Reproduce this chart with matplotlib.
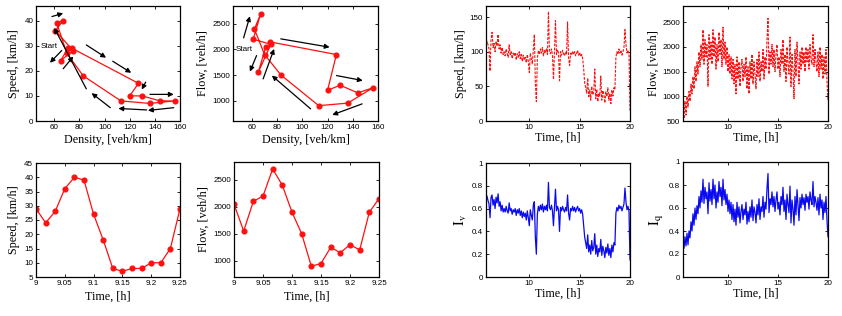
import numpy as np
import matplotlib
matplotlib.use("Agg")
import matplotlib.pyplot as plt

plt.rcParams['font.family'] = ['Liberation Sans', 'DejaVu Sans']
plt.rcParams['mathtext.fontset'] = 'stix'

# ---------------- data: short window 9.00 - 9.25 h ----------------
t_short = [9.0, 9.0167, 9.0333, 9.05, 9.0667, 9.0833, 9.1, 9.1167,
           9.1333, 9.15, 9.1667, 9.1833, 9.2, 9.2167, 9.2333, 9.25]
speed_short = [29, 24, 28, 36, 40, 39, 27, 18, 8, 7, 8, 8, 10, 10, 15, 29]
flow_short = [2050, 1550, 2100, 2200, 2700, 2400, 1900, 1500, 900, 950,
              1250, 1150, 1300, 1200, 1900, 2150]
density_short = [71, 65, 75, 61, 67, 62, 70, 83, 113, 136, 156, 144, 130, 120, 127, 74]

# arrows (start x, start y, end x, end y) in data units
arrows_speed = [(58.2, 41.6, 67.1, 42.9), (85.5, 12.8, 60.0, 37.1),
                (66.0, 28.1, 56.6, 23.2), (67.1, 20.8, 75.2, 25.7),
                (85.5, 30.3, 101.2, 25.2), (106.5, 23.8, 121.2, 19.2),
                (132.7, 15.5, 129.6, 12.5), (136.1, 10.6, 155.0, 10.6),
                (155.0, 5.3, 134.5, 4.2), (133.5, 4.4, 111.0, 5.0),
                (104.6, 5.3, 89.7, 11.1)]
arrows_flow = [(53.4, 2226, 58.4, 2650), (63.7, 1880, 58.4, 1567),
               (68.9, 1424, 77.6, 2011), (82.9, 2207, 121.6, 2044),
               (127.1, 1489, 147.9, 1391), (147.4, 935, 123.7, 719),
               (106.6, 837, 75.8, 1489)]

# ---------------- data: full day 5.5 - 20 h (0.1 h step) ----------------
t_day = np.round(np.linspace(5.5, 20.0, 146), 2)
speed_day = [108, 112, 105, 115, 110, 104, 72, 118, 128, 106,
             112, 100, 115, 108, 125, 104, 110, 98, 106, 96,
             100, 94, 104, 97, 92, 110, 96, 100, 90, 98,
             94, 99, 88, 97, 92, 100, 90, 96, 86, 95,
             88, 92, 84, 96, 86, 70, 98, 90, 82, 104,
             125, 55, 28, 90, 102, 96, 104, 98, 106, 94,
             102, 98, 105, 96, 158, 100, 97, 104, 95, 60,
             100, 145, 96, 103, 98, 58, 100, 95, 102, 97,
             94, 100, 96, 143, 92, 80, 98, 95, 101, 96,
             100, 94, 98, 102, 95, 99, 93, 96, 90, 75,
             55, 48, 40, 62, 35, 45, 30, 50, 38, 42,
             75, 32, 46, 28, 40, 36, 65, 30, 44, 38,
             26, 42, 35, 48, 30, 40, 25, 45, 36, 48,
             45, 92, 100, 96, 104, 98, 102, 95, 100, 106,
             132, 110, 98, 102, 96, 15]
flow_day = [700, 550, 900, 620, 1000, 780, 1100, 900, 1250, 1050,
            1400, 1150, 1600, 1300, 1700, 1450, 1900, 1600, 2050, 1750,
            2350, 1650, 2150, 1800, 2050, 1200, 2250, 1750, 2100, 1650,
            2350, 1800, 2200, 1550, 2050, 1700, 2300, 1850, 2150, 1600,
            2400, 1750, 2100, 1650, 2000, 1500, 1850, 1450, 1800, 1350,
            1750, 1250, 1650, 1050, 1800, 1350, 1700, 1200, 1600, 1750,
            1300, 1650, 1400, 1800, 1150, 1600, 1050, 1700, 1350, 1850,
            1250, 1700, 1450, 1150, 1750, 1400, 1900, 1300, 1700, 1500,
            1950, 1350, 1800, 1550, 2150, 2580, 1450, 1900, 1650, 2050,
            1600, 1950, 1500, 1850, 2050, 1550, 1800, 1400, 1950, 1650,
            2150, 1500, 1850, 1300, 2000, 1650, 1450, 2200, 1200, 1850,
            1550, 950, 1950, 1400, 2100, 1650, 1250, 1900, 1550, 2000,
            1650, 1900, 1500, 2000, 1700, 1950, 1550, 2050, 1750, 1650,
            2250, 1600, 1950, 1700, 1500, 1900, 1400, 2000, 1550, 1850,
            1350, 1800, 1450, 1950, 1300, 900]
iv_day = [0.68, 0.70, 0.66, 0.71, 0.67, 0.64, 0.52, 0.70, 0.72, 0.63,
          0.68, 0.60, 0.70, 0.65, 0.73, 0.62, 0.66, 0.58, 0.63, 0.57,
          0.60, 0.57, 0.62, 0.58, 0.56, 0.65, 0.58, 0.60, 0.55, 0.59,
          0.57, 0.60, 0.54, 0.59, 0.56, 0.60, 0.54, 0.58, 0.52, 0.57,
          0.53, 0.56, 0.50, 0.58, 0.52, 0.45, 0.59, 0.54, 0.50, 0.63,
          0.66, 0.35, 0.20, 0.55, 0.62, 0.58, 0.63, 0.59, 0.64, 0.57,
          0.62, 0.59, 0.63, 0.58, 0.83, 0.61, 0.59, 0.63, 0.58, 0.45,
          0.61, 0.77, 0.58, 0.62, 0.59, 0.40, 0.61, 0.58, 0.62, 0.59,
          0.57, 0.61, 0.58, 0.72, 0.56, 0.50, 0.60, 0.58, 0.62, 0.58,
          0.61, 0.57, 0.60, 0.62, 0.58, 0.60, 0.56, 0.59, 0.55, 0.45,
          0.35, 0.30, 0.25, 0.37, 0.22, 0.28, 0.20, 0.32, 0.23, 0.26,
          0.38, 0.20, 0.28, 0.18, 0.25, 0.22, 0.33, 0.19, 0.27, 0.23,
          0.17, 0.26, 0.21, 0.29, 0.19, 0.25, 0.17, 0.28, 0.22, 0.30,
          0.28, 0.56, 0.61, 0.58, 0.63, 0.60, 0.62, 0.58, 0.61, 0.64,
          0.78, 0.66, 0.59, 0.62, 0.58, 0.15]
iq_day = [0.30, 0.25, 0.35, 0.27, 0.38, 0.28, 0.40, 0.34, 0.48, 0.40,
          0.55, 0.45, 0.60, 0.50, 0.62, 0.55, 0.70, 0.60, 0.75, 0.65,
          0.85, 0.64, 0.78, 0.68, 0.74, 0.55, 0.82, 0.66, 0.76, 0.63,
          0.85, 0.68, 0.80, 0.60, 0.74, 0.65, 0.83, 0.70, 0.78, 0.62,
          0.85, 0.67, 0.76, 0.63, 0.72, 0.57, 0.67, 0.55, 0.65, 0.50,
          0.63, 0.48, 0.59, 0.45, 0.65, 0.52, 0.61, 0.47, 0.57, 0.63,
          0.50, 0.59, 0.54, 0.65, 0.46, 0.57, 0.48, 0.61, 0.52, 0.67,
          0.49, 0.61, 0.56, 0.47, 0.63, 0.54, 0.68, 0.50, 0.61, 0.57,
          0.70, 0.52, 0.65, 0.59, 0.77, 0.90, 0.56, 0.68, 0.63, 0.74,
          0.61, 0.70, 0.57, 0.67, 0.74, 0.59, 0.65, 0.54, 0.70, 0.63,
          0.78, 0.57, 0.67, 0.50, 0.72, 0.63, 0.56, 0.79, 0.47, 0.67,
          0.59, 0.45, 0.70, 0.54, 0.76, 0.63, 0.49, 0.69, 0.60, 0.72,
          0.63, 0.69, 0.58, 0.72, 0.65, 0.70, 0.59, 0.74, 0.67, 0.63,
          0.83, 0.61, 0.70, 0.65, 0.58, 0.69, 0.54, 0.72, 0.60, 0.67,
          0.50, 0.65, 0.56, 0.70, 0.49, 0.35]

# ---------------- figure ----------------
W, H = 842, 316
fig = plt.figure(figsize=(W / 100, H / 100), dpi=100)

def add_ax(l, r, top, bot):
    return fig.add_axes([l / W, 1 - bot / H, (r - l) / W, (bot - top) / H])

LABEL_FONT = dict(family='Liberation Serif', size=8.7)
TICK_SIZE = 5.8
RED = '#ff1010'
BLUE = '#0a0af0'

def style(ax):
    ax.tick_params(direction='in', top=True, right=True, length=2.5,
                   width=0.6, labelsize=TICK_SIZE, pad=2)
    for s in ax.spines.values():
        s.set_linewidth(0.9)

marker = dict(marker='o', markersize=3.4, markerfacecolor=RED, markeredgecolor=RED)
arrow_props = dict(arrowstyle='-|>', color='k', lw=0.9,
                   mutation_scale=7, shrinkA=0, shrinkB=0)

# panel 1: speed vs density
ax1 = add_ax(36, 180, 6, 121)
ax1.plot(density_short, speed_short, '-', color=RED, lw=0.9, **marker)
for x0, y0, x1, y1 in arrows_speed:
    ax1.annotate('', xy=(x1, y1), xytext=(x0, y0), arrowprops=arrow_props)
ax1.text(49.5, 29.7, 'Start', fontsize=5.8, ha='left', va='center')
ax1.set_xlim(45.5, 160)
ax1.set_ylim(0, 45.8)
ax1.set_xticks([60, 80, 100, 120, 140, 160])
ax1.set_yticks([0, 10, 20, 30, 40])
ax1.set_xlabel('Density, [veh/km]', fontdict=LABEL_FONT, labelpad=2)
ax1.set_ylabel('Speed, [km/h]', fontdict=LABEL_FONT, labelpad=3)
style(ax1)

# panel 2: flow vs density
ax2 = add_ax(233, 378, 6, 121)
ax2.plot(density_short, flow_short, '-', color=RED, lw=0.9, **marker)
for x0, y0, x1, y1 in arrows_flow:
    ax2.annotate('', xy=(x1, y1), xytext=(x0, y0), arrowprops=arrow_props)
ax2.text(47.4, 2000, 'Start', fontsize=5.8, ha='left', va='center')
ax2.set_xlim(45, 160)
ax2.set_ylim(600, 2850)
ax2.set_xticks([60, 80, 100, 120, 140, 160])
ax2.set_yticks([1000, 1500, 2000, 2500])
ax2.set_xlabel('Density, [veh/km]', fontdict=LABEL_FONT, labelpad=2)
ax2.set_ylabel('Flow, [veh/h]', fontdict=LABEL_FONT, labelpad=3)
style(ax2)

short_ticks = [9.0, 9.05, 9.1, 9.15, 9.2, 9.25]
short_labels = ['9', '9.05', '9.1', '9.15', '9.2', '9.25']

# panel 3: speed vs time (short)
ax3 = add_ax(36, 180, 163, 277)
ax3.plot(t_short, speed_short, '-', color=RED, lw=0.9, **marker)
ax3.set_xlim(9, 9.25)
ax3.set_ylim(5, 45)
ax3.set_xticks(short_ticks)
ax3.set_xticklabels(short_labels)
ax3.set_yticks(list(range(5, 46, 5)))
ax3.set_xlabel('Time, [h]', fontdict=LABEL_FONT, labelpad=3)
ax3.set_ylabel('Speed, [km/h]', fontdict=LABEL_FONT, labelpad=3)
style(ax3)

# panel 4: flow vs time (short)
ax4 = add_ax(234, 379, 162, 277)
ax4.plot(t_short, flow_short, '-', color=RED, lw=0.9, **marker)
ax4.set_xlim(9, 9.25)
ax4.set_ylim(700, 2830)
ax4.set_xticks(short_ticks)
ax4.set_xticklabels(short_labels)
ax4.set_yticks([1000, 1500, 2000, 2500])
ax4.set_xlabel('Time, [h]', fontdict=LABEL_FONT, labelpad=3)
ax4.set_ylabel('Flow, [veh/h]', fontdict=LABEL_FONT, labelpad=3)
style(ax4)

# panel 5: speed over the day
ax5 = add_ax(486, 630, 6, 121)
ax5.plot(t_day, speed_day, color=RED, lw=0.8, linestyle=(0, (2.5, 1.2)))
ax5.set_xlim(5.7, 20)
ax5.set_ylim(0, 166)
ax5.set_xticks([10, 15, 20])
ax5.set_yticks([0, 50, 100, 150])
ax5.set_xlabel('Time, [h]', fontdict=LABEL_FONT, labelpad=1)
ax5.set_ylabel('Speed, [km/h]', fontdict=LABEL_FONT, labelpad=2)
style(ax5)

# panel 6: flow over the day
ax6 = add_ax(683, 828, 6, 121)
ax6.plot(t_day, flow_day, color=RED, lw=0.8, linestyle=(0, (2.5, 1.2)))
ax6.set_xlim(5.5, 20)
ax6.set_ylim(500, 2830)
ax6.set_xticks([10, 15, 20])
ax6.set_yticks([500, 1000, 1500, 2000, 2500])
ax6.set_xlabel('Time, [h]', fontdict=LABEL_FONT, labelpad=1)
ax6.set_ylabel('Flow, [veh/h]', fontdict=LABEL_FONT, labelpad=2)
style(ax6)

ind_ticks = [0, 0.2, 0.4, 0.6, 0.8, 1.0]
ind_labels = ['0', '0.2', '0.4', '0.6', '0.8', '1']

# panel 7: I_v
ax7 = add_ax(486, 630, 163, 277)
ax7.plot(t_day, iv_day, color=BLUE, lw=0.9)
ax7.set_xlim(5.7, 20)
ax7.set_ylim(0, 1)
ax7.set_xticks([10, 15, 20])
ax7.set_yticks(ind_ticks)
ax7.set_yticklabels(ind_labels)
ax7.set_xlabel('Time, [h]', fontdict=LABEL_FONT, labelpad=1)
ax7.set_ylabel(r'$\mathrm{I}_{\mathrm{v}}$', fontsize=10.5, labelpad=2)
style(ax7)

# panel 8: I_q
ax8 = add_ax(683, 828, 162, 277)
ax8.plot(t_day, iq_day, color=BLUE, lw=0.9)
ax8.set_xlim(5.5, 20)
ax8.set_ylim(0, 1)
ax8.set_xticks([10, 15, 20])
ax8.set_yticks(ind_ticks)
ax8.set_yticklabels(ind_labels)
ax8.set_xlabel('Time, [h]', fontdict=LABEL_FONT, labelpad=1)
ax8.set_ylabel(r'$\mathrm{I}_{\mathrm{q}}$', fontsize=10.5, labelpad=2)
style(ax8)

fig.savefig('out.png', dpi=100)
